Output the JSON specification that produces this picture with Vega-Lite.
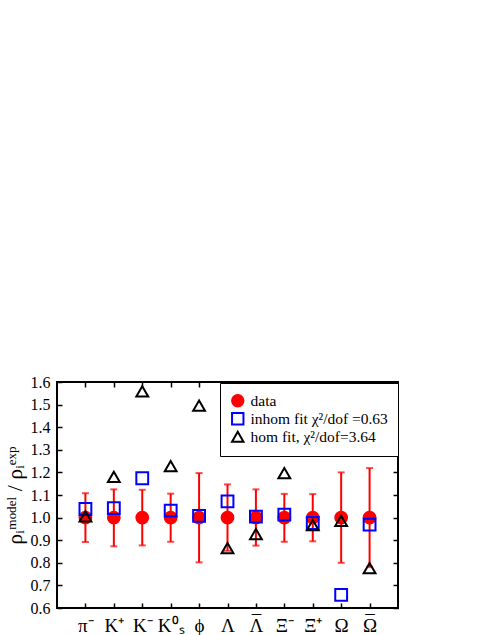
{
  "$schema": "https://vega.github.io/schema/vega-lite/v6.json",
  "width": 341,
  "height": 226,
  "autosize": {"type": "none"},
  "padding": {"left": 57, "top": 382, "right": 93, "bottom": 27},
  "background": "white",
  "config": {
    "view": {"stroke": "black", "strokeWidth": 2},
    "font": "Liberation Serif",
    "axis": {"grid": false, "domain": false, "tickColor": "black", "tickWidth": 1.5, "labelColor": "black", "titleColor": "black", "labelFont": "Liberation Serif", "titleFont": "Liberation Serif"}
  },
  "data": {"values": [
    {"i": 1, "series": "data", "v": 1.0, "lo": 0.892, "hi": 1.108},
    {"i": 2, "series": "data", "v": 1.0, "lo": 0.873, "hi": 1.125},
    {"i": 3, "series": "data", "v": 1.0, "lo": 0.877, "hi": 1.123},
    {"i": 4, "series": "data", "v": 1.0, "lo": 0.893, "hi": 1.106},
    {"i": 5, "series": "data", "v": 1.0, "lo": 0.802, "hi": 1.197},
    {"i": 6, "series": "data", "v": 1.0, "lo": 0.853, "hi": 1.147},
    {"i": 7, "series": "data", "v": 1.0, "lo": 0.876, "hi": 1.125},
    {"i": 8, "series": "data", "v": 1.0, "lo": 0.893, "hi": 1.105},
    {"i": 9, "series": "data", "v": 1.0, "lo": 0.895, "hi": 1.104},
    {"i": 10, "series": "data", "v": 1.0, "lo": 0.8, "hi": 1.2},
    {"i": 11, "series": "data", "v": 1.0, "lo": 0.781, "hi": 1.219},
    {"i": 1, "series": "inhom fit χ²/dof =0.63", "v": 1.038},
    {"i": 2, "series": "inhom fit χ²/dof =0.63", "v": 1.042},
    {"i": 3, "series": "inhom fit χ²/dof =0.63", "v": 1.174},
    {"i": 4, "series": "inhom fit χ²/dof =0.63", "v": 1.031},
    {"i": 5, "series": "inhom fit χ²/dof =0.63", "v": 1.008},
    {"i": 6, "series": "inhom fit χ²/dof =0.63", "v": 1.072},
    {"i": 7, "series": "inhom fit χ²/dof =0.63", "v": 1.004},
    {"i": 8, "series": "inhom fit χ²/dof =0.63", "v": 1.013},
    {"i": 9, "series": "inhom fit χ²/dof =0.63", "v": 0.976},
    {"i": 10, "series": "inhom fit χ²/dof =0.63", "v": 0.658},
    {"i": 11, "series": "inhom fit χ²/dof =0.63", "v": 0.969},
    {"i": 1, "series": "hom fit, χ²/dof=3.64", "v": 1.005},
    {"i": 2, "series": "hom fit, χ²/dof=3.64", "v": 1.18},
    {"i": 3, "series": "hom fit, χ²/dof=3.64", "v": 1.559},
    {"i": 4, "series": "hom fit, χ²/dof=3.64", "v": 1.228},
    {"i": 5, "series": "hom fit, χ²/dof=3.64", "v": 1.495},
    {"i": 6, "series": "hom fit, χ²/dof=3.64", "v": 0.865},
    {"i": 7, "series": "hom fit, χ²/dof=3.64", "v": 0.927},
    {"i": 8, "series": "hom fit, χ²/dof=3.64", "v": 1.197},
    {"i": 9, "series": "hom fit, χ²/dof=3.64", "v": 0.967},
    {"i": 10, "series": "hom fit, χ²/dof=3.64", "v": 0.986},
    {"i": 11, "series": "hom fit, χ²/dof=3.64", "v": 0.776}
  ]},
  "layer": [
    {
      "transform": [{"filter": "datum.series === 'data'"}],
      "mark": {"type": "rule", "color": "red", "strokeWidth": 2},
      "encoding": {
        "x": {"field": "i", "type": "quantitative", "scale": {"domain": [0, 12]},
          "axis": {"orient": "bottom", "values": [1,2,3,4,5,6,7,8,9,10,11], "tickSize": -5, "labelPadding": 9, "labelFontSize": 19, "labelLineHeight": 4,
            "labelExpr": "[[' ',' '],[' ','π⁻'],[' ','K⁺'],[' ','K⁻'],[' ','K⁰ₛ'],[' ','ϕ'],[' ','Λ'],['¯','Λ'],[' ','Ξ⁻'],[' ','Ξ⁺'],[' ','Ω'],['¯','Ω']][datum.value]", "title": null}},
        "y": {"field": "lo", "type": "quantitative", "scale": {"domain": [0.6, 1.6]},
          "axis": {"orient": "left", "values": [0.6,0.7,0.8,0.9,1.0,1.1,1.2,1.3,1.4,1.5,1.6], "format": ".1f", "tickSize": -5, "labelPadding": 12, "labelFontSize": 16,
            "title": "ρᵢᵐᵒᵈᵉˡ / ρᵢᵉˣᵖ", "titleFontSize": 22, "titleFontWeight": "normal", "titlePadding": 4}},
        "y2": {"field": "hi"}
      }
    },
    {
      "transform": [{"filter": "datum.series === 'data'"}],
      "mark": {"type": "tick", "orient": "horizontal", "color": "red", "thickness": 2, "size": 7},
      "encoding": {
        "x": {"field": "i", "type": "quantitative", "axis": null},
        "y": {"field": "lo", "type": "quantitative", "axis": null}
      }
    },
    {
      "transform": [{"filter": "datum.series === 'data'"}],
      "mark": {"type": "tick", "orient": "horizontal", "color": "red", "thickness": 2, "size": 7},
      "encoding": {
        "x": {"field": "i", "type": "quantitative", "axis": null},
        "y": {"field": "hi", "type": "quantitative", "axis": null}
      }
    },
    {
      "mark": {"type": "point", "strokeWidth": 2, "opacity": 1, "size": 140},
      "encoding": {
        "x": {"field": "i", "type": "quantitative",
          "axis": {"orient": "top", "values": [1,2,3,4,5,6,7,8,9,10,11], "tickSize": -5, "labels": false, "title": null}},
        "y": {"field": "v", "type": "quantitative",
          "axis": {"orient": "right", "values": [0.6,0.7,0.8,0.9,1.0,1.1,1.2,1.3,1.4,1.5,1.6], "tickSize": -5, "labels": false, "title": null}},
        "shape": {"field": "series", "type": "nominal",
          "scale": {"domain": ["data", "inhom fit χ²/dof =0.63", "hom fit, χ²/dof=3.64"], "range": ["circle", "square", "triangle-up"]},
          "legend": {"title": null, "orient": "none", "legendX": 163, "legendY": 1, "strokeColor": "black", "padding": 10, "fillColor": "white", "labelFontSize": 15.5, "labelFont": "Liberation Serif", "labelColor": "black", "labelLimit": 300, "symbolSize": 130, "symbolStrokeWidth": 2, "rowPadding": -6, "labelOffset": 5, "offset": 0}},
        "stroke": {"field": "series", "type": "nominal",
          "scale": {"domain": ["data", "inhom fit χ²/dof =0.63", "hom fit, χ²/dof=3.64"], "range": ["red", "blue", "black"]},
          "legend": {"title": null, "orient": "none", "legendX": 163, "legendY": 1, "strokeColor": "black", "padding": 10, "fillColor": "white", "labelFontSize": 15.5, "labelFont": "Liberation Serif", "labelColor": "black", "labelLimit": 300, "symbolSize": 130, "symbolStrokeWidth": 2, "rowPadding": -6, "labelOffset": 5, "offset": 0}},
        "fill": {"field": "series", "type": "nominal",
          "scale": {"domain": ["data", "inhom fit χ²/dof =0.63", "hom fit, χ²/dof=3.64"], "range": ["red", "transparent", "transparent"]},
          "legend": {"title": null, "orient": "none", "legendX": 163, "legendY": 1, "strokeColor": "black", "padding": 10, "fillColor": "white", "labelFontSize": 15.5, "labelFont": "Liberation Serif", "labelColor": "black", "labelLimit": 300, "symbolSize": 130, "symbolStrokeWidth": 2, "rowPadding": -6, "labelOffset": 5, "offset": 0}}
      }
    }
  ],
  "resolve": {"axis": {"x": "independent", "y": "independent"}}
}
